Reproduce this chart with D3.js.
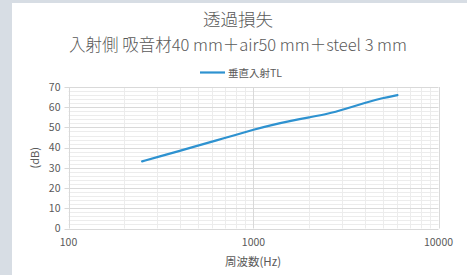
<!DOCTYPE html>
<html>
<head>
<meta charset="utf-8">
<script src="https://cdn.jsdelivr.net/npm/d3@7"></script>
<style>
  body { margin: 0; background: #fff; }
  svg text { font-family: "Noto Sans CJK JP", "Noto Sans", sans-serif; fill: #595959; }
</style>
</head>
<body>
<div id="chart"></div>
<script>
// frequency (Hz) and normal incidence transmission loss (dB)
var freqs = [250, 315, 400, 500, 630, 800, 1000, 1250, 1600, 2000, 2500, 3150, 4000, 5000, 6000];
var tlValues = [33.2, 35.8, 38.4, 41.0, 43.6, 46.3, 48.9, 51.2, 53.3, 55.0, 56.6, 59.2, 62.2, 64.6, 66.0];
var xTicks = [100, 1000, 10000];
var yTicks = [0, 10, 20, 30, 40, 50, 60, 70];

var W = 467, H = 275;
var margin = {left: 68.5, right: 28.5, top: 87, bottom: 46.5};

var svg = d3.select("#chart").append("svg")
  .attr("width", W)
  .attr("height", H);

// frame background
svg.append("rect").attr("width", W).attr("height", H).attr("fill", "#d7dde4");
svg.append("rect").attr("x", 12).attr("y", 3).attr("width", W - 12).attr("height", H - 3).attr("fill", "#fff");

var x = d3.scaleLog()
  .domain([100, 10000])
  .range([margin.left, W - margin.right]);

var y = d3.scaleLinear()
  .domain([0, 70])
  .range([H - margin.bottom, margin.top]);

// minor grid
var minorX = [];
[100, 1000].forEach(function(dec) {
  for (var k = 2; k <= 9; k++) minorX.push(dec * k);
});
var minorY = d3.range(0, 71, 2).filter(function(v) { return v % 10 !== 0; });

svg.append("g").selectAll("line.mx")
  .data(minorX).enter().append("line")
  .attr("x1", function(d) { return Math.round(x(d)) + 0.5; })
  .attr("x2", function(d) { return Math.round(x(d)) + 0.5; })
  .attr("y1", y(0)).attr("y2", y(70))
  .attr("stroke", "#ececec");

svg.append("g").selectAll("line.my")
  .data(minorY).enter().append("line")
  .attr("x1", x(100)).attr("x2", x(10000))
  .attr("y1", function(d) { return Math.round(y(d)) + 0.5; })
  .attr("y2", function(d) { return Math.round(y(d)) + 0.5; })
  .attr("stroke", "#ececec");

// major grid
svg.append("g").selectAll("line")
  .data(xTicks).enter().append("line")
  .attr("x1", function(d) { return Math.round(x(d)) + 0.5; })
  .attr("x2", function(d) { return Math.round(x(d)) + 0.5; })
  .attr("y1", y(0)).attr("y2", y(70))
  .attr("stroke", "#d9d9d9");

svg.append("g").selectAll("line")
  .data(yTicks).enter().append("line")
  .attr("x1", x(100) - 4).attr("x2", x(10000))
  .attr("y1", function(d) { return Math.round(y(d)) + 0.5; })
  .attr("y2", function(d) { return Math.round(y(d)) + 0.5; })
  .attr("stroke", "#d9d9d9");

// axes labels
svg.append("g").selectAll("text")
  .data(yTicks).enter().append("text")
  .attr("x", x(100) - 8)
  .attr("y", function(d) { return y(d); })
  .attr("dy", "0.35em")
  .attr("text-anchor", "end")
  .attr("font-size", "10.5px")
  .text(function(d) { return d; });

svg.append("g").selectAll("text")
  .data(xTicks).enter().append("text")
  .attr("x", function(d) { return x(d); })
  .attr("y", y(0) + 17)
  .attr("text-anchor", "middle")
  .attr("font-size", "10.5px")
  .text(function(d) { return d; });

// series
var line = d3.line()
  .x(function(d, i) { return x(freqs[i]); })
  .y(function(d) { return y(d); })
  .curve(d3.curveBasis);

svg.append("path")
  .datum(tlValues)
  .attr("fill", "none")
  .attr("stroke", "#2e92d0")
  .attr("stroke-width", 2.2)
  .attr("stroke-linecap", "round")
  .attr("d", line);

// titles
svg.append("text")
  .attr("x", 238).attr("y", 26)
  .attr("text-anchor", "middle")
  .attr("font-size", "17.5px")
  .attr("font-weight", 300)
  .text("透過損失");

svg.append("text")
  .attr("x", 238).attr("y", 51)
  .attr("text-anchor", "middle")
  .attr("font-size", "16.5px")
  .attr("font-weight", 300)
  .text("入射側 吸音材40 mm＋air50 mm＋steel 3 mm");

// legend
svg.append("line")
  .attr("x1", 200).attr("x2", 225)
  .attr("y1", 72.5).attr("y2", 72.5)
  .attr("stroke", "#2e92d0").attr("stroke-width", 2.2);
svg.append("text")
  .attr("x", 228).attr("y", 76.5)
  .attr("font-size", "10.5px")
  .text("垂直入射TL");

// axis titles
svg.append("text")
  .attr("x", 253).attr("y", 266)
  .attr("text-anchor", "middle")
  .attr("font-size", "11.5px")
  .text("周波数(Hz)");

svg.append("text")
  .attr("transform", "translate(39," + y(35) + ") rotate(-90)")
  .attr("text-anchor", "middle")
  .attr("font-size", "11px")
  .text("(dB)");
</script>
</body>
</html>
